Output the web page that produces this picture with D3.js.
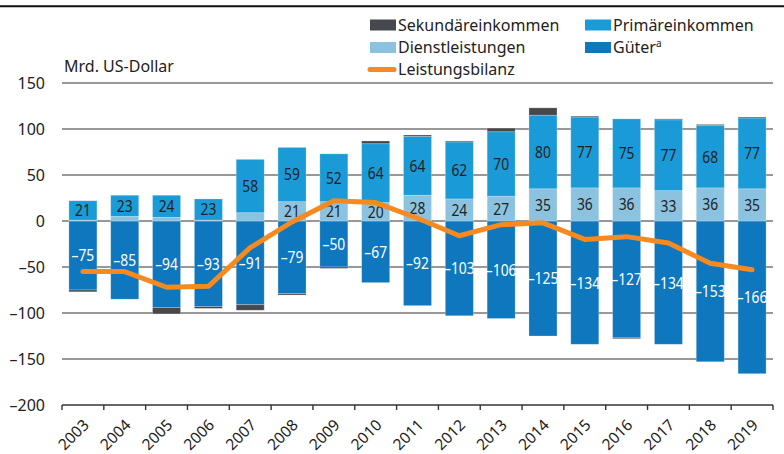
<!DOCTYPE html>
<html>
<head>
<meta charset="utf-8">
<script src="https://cdn.jsdelivr.net/npm/d3@7"></script>
<style>
  body { margin: 0; background: #fff; }
  svg { display: block; font-family: "Noto Sans", sans-serif; }
</style>
</head>
<body>
<div id="chart"></div>
<script>
const years = ["2003","2004","2005","2006","2007","2008","2009","2010","2011","2012","2013","2014","2015","2016","2017","2018","2019"];
const gueter = [-75,-85,-94,-93,-91,-79,-50,-67,-92,-103,-106,-125,-134,-127,-134,-153,-166];
const dienst = [1,5,4,1,9,21,21,20,28,24,27,35,36,36,33,36,35];
const primaer = [21,23,24,23,58,59,52,64,64,62,70,80,77,75,77,68,77];
const sekundaer = [-2,0,-7,-2,-6,-1.5,-1.5,3,1.5,1,4,8,1,-1,1,1,1];
const bilanz = [-55,-55,-72,-71,-29,-1,22,20,3,-16,-4,-2,-20,-17,-24,-46,-53];
const yTicks = [150,100,50,0,-50,-100,-150,-200];

const width = 784, height = 454;
const colors = { gueter: "#0e77bd", dienst: "#8bc2e0", primaer: "#1a9ad7", sekundaer: "#45494d", bilanz: "#f6891f" };

const rows = years.map((y, i) => ({ year: y, gueter: gueter[i], dienst: dienst[i], primaer: primaer[i], sekundaer: sekundaer[i] }));
const keys = ["gueter", "dienst", "primaer", "sekundaer"];
const series = d3.stack().keys(keys).offset(d3.stackOffsetDiverging)(rows);

const svg = d3.select("#chart").append("svg")
  .attr("width", width).attr("height", height);

const x = d3.scaleBand().domain(years).range([62, 773]).paddingInner(0.33).paddingOuter(0.165);
const y = d3.scaleLinear().domain([-200, 150]).range([405, 83]);

// top rule
svg.append("line").attr("x1", 0).attr("x2", width).attr("y1", 6.3).attr("y2", 6.3)
  .attr("stroke", "#111").attr("stroke-width", 2);

// gridlines
svg.append("g").selectAll("line")
  .data(yTicks.filter(d => d > -200))
  .join("line")
  .attr("x1", 62).attr("x2", 773)
  .attr("y1", d => y(d)).attr("y2", d => y(d))
  .attr("stroke", "#333").attr("stroke-width", 1.1);

// y labels
svg.append("g").selectAll("text")
  .data(yTicks)
  .join("text")
  .attr("x", 45).attr("y", d => y(d)).attr("dy", "0.35em")
  .attr("text-anchor", "end").attr("font-size", 16).attr("fill", "#222")
  .text(d => d < 0 ? "\u2013" + Math.abs(d) : d);

// bars
svg.append("g").selectAll("g")
  .data(series)
  .join("g")
  .attr("fill", s => colors[s.key])
  .selectAll("rect")
  .data(s => s)
  .join("rect")
  .attr("x", d => x(d.data.year))
  .attr("width", x.bandwidth())
  .attr("y", d => y(Math.max(d[0], d[1])))
  .attr("height", d => Math.abs(y(d[0]) - y(d[1])))
  .attr("stroke", "#fff").attr("stroke-opacity", 0.3).attr("stroke-width", 0.8);

// bar labels (narrowed, the original uses a condensed face)
const labelSeries = [
  { key: "gueter", fill: "#fff", min: 0 },
  { key: "dienst", fill: "#222", min: 15 },
  { key: "primaer", fill: "#222", min: 0 }
];
labelSeries.forEach(ls => {
  const s = series.find(d => d.key === ls.key);
  svg.append("g").selectAll("text")
    .data(s.filter(d => Math.abs(d.data[ls.key]) >= ls.min))
    .join("text")
    .attr("transform", d => `translate(${x(d.data.year) + x.bandwidth() / 2},${y((d[0] + d[1]) / 2)}) scale(0.84,1)`)
    .attr("dy", "0.36em")
    .attr("text-anchor", "middle").attr("font-size", 16.5).attr("fill", ls.fill)
    .text(d => { const v = d.data[ls.key]; return v < 0 ? "\u2013" + Math.abs(v) : v; });
});

// Leistungsbilanz line
const line = d3.line()
  .x((d, i) => x(years[i]) + x.bandwidth() / 2)
  .y(d => y(d));
svg.append("path").datum(bilanz)
  .attr("d", line)
  .attr("fill", "none").attr("stroke", colors.bilanz)
  .attr("stroke-width", 5).attr("stroke-linecap", "round").attr("stroke-linejoin", "round");

// x axis
const xAxis = svg.append("g");
xAxis.append("line").attr("x1", 62).attr("x2", 773).attr("y1", y(-200)).attr("y2", y(-200))
  .attr("stroke", "#333").attr("stroke-width", 1.6);
const step = x.step();
xAxis.selectAll(".tick")
  .data(d3.range(years.length + 1))
  .join("line")
  .attr("x1", i => 62 + i * step).attr("x2", i => 62 + i * step)
  .attr("y1", y(-200)).attr("y2", y(-200) + 5)
  .attr("stroke", "#333").attr("stroke-width", 1.4);
xAxis.selectAll("text")
  .data(years)
  .join("text")
  .attr("transform", d => `translate(${x(d) + x.bandwidth() / 2 + 7},${y(-200) + 21}) rotate(-45)`)
  .attr("text-anchor", "end").attr("font-size", 15.5).attr("fill", "#222")
  .text(d => d);

// unit label
svg.append("text").attr("x", 64).attr("y", 72).attr("font-size", 16).attr("fill", "#222")
  .text("Mrd. US-Dollar");

// legend
const legend = [
  { label: "Sekundäreinkommen", color: colors.sekundaer, x: 370, y: 25 },
  { label: "Primäreinkommen", color: colors.primaer, x: 585, y: 25 },
  { label: "Dienstleistungen", color: colors.dienst, x: 370, y: 47.5 },
  { label: "Güter", sup: "a", color: colors.gueter, x: 585, y: 47.5 }
];
const lg = svg.append("g");
legend.forEach(l => {
  lg.append("rect").attr("x", l.x).attr("y", l.y - 5.5).attr("width", 26).attr("height", 11).attr("fill", l.color);
  const t = lg.append("text").attr("x", l.x + 28).attr("y", l.y).attr("dy", "0.35em")
    .attr("font-size", 16).attr("fill", "#222").text(l.label);
  if (l.sup) t.append("tspan").attr("font-size", 10).attr("dy", "-0.6em").text(l.sup);
});
lg.append("line").attr("x1", 370).attr("x2", 394).attr("y1", 69.5).attr("y2", 69.5)
  .attr("stroke", colors.bilanz).attr("stroke-width", 5).attr("stroke-linecap", "round");
lg.append("text").attr("x", 398).attr("y", 69.5).attr("dy", "0.35em")
  .attr("font-size", 16).attr("fill", "#222").text("Leistungsbilanz");
</script>
</body>
</html>
